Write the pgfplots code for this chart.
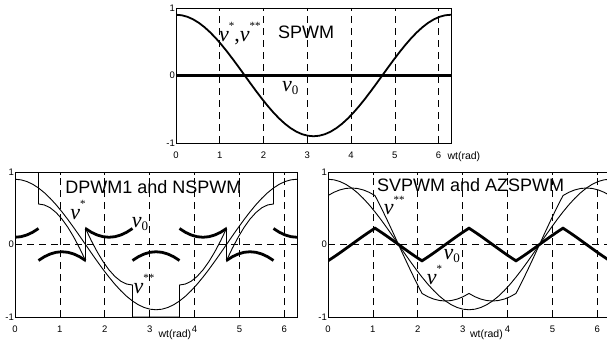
\documentclass[border=0pt]{standalone}
\usepackage{fontspec}
\setmainfont{Liberation Sans}
\newfontfamily\tm{Liberation Serif}
\usepackage{pgfplots}
\usepackage{pgfplotstable}
\pgfplotsset{compat=1.18}

\pgfplotstableread{
x vs vss v0
0 0.9 0.675 -0.225
0.1309 0.8923 0.7201 -0.1722
0.2618 0.8693 0.7528 -0.1165
0.3927 0.8315 0.7728 -0.0587
0.5236 0.7794 0.7794 0
0.6545 0.7140 0.7727 0.0587
0.7854 0.6364 0.7529 0.1165
0.9163 0.5479 0.7201 0.1722
1.0472 0.45 0.675 0.225
1.1781 0.3444 0.5166 0.1722
1.3090 0.2329 0.3494 0.1165
1.4399 0.1175 0.1762 0.0587
1.5708 0 0 0
1.7017 -0.1175 -0.1762 -0.0587
1.8326 -0.2329 -0.3494 -0.1165
1.9635 -0.3444 -0.5166 -0.1722
2.0944 -0.45 -0.675 -0.225
2.2253 -0.5479 -0.7201 -0.1722
2.3562 -0.6364 -0.7529 -0.1165
2.4871 -0.7140 -0.7727 -0.0587
2.6180 -0.7794 -0.7794 0
2.7489 -0.8315 -0.7728 0.0587
2.8798 -0.8693 -0.7528 0.1165
3.0107 -0.8923 -0.7201 0.1722
3.1416 -0.9 -0.675 0.225
3.2725 -0.8923 -0.7201 0.1722
3.4034 -0.8693 -0.7528 0.1165
3.5343 -0.8315 -0.7728 0.0587
3.6652 -0.7794 -0.7794 0
3.7961 -0.7140 -0.7727 -0.0587
3.9270 -0.6364 -0.7529 -0.1165
4.0579 -0.5479 -0.7201 -0.1722
4.1888 -0.45 -0.675 -0.225
4.3197 -0.3444 -0.5166 -0.1722
4.4506 -0.2329 -0.3494 -0.1165
4.5815 -0.1175 -0.1762 -0.0587
4.7124 0 0 0
4.8433 0.1175 0.1762 0.0587
4.9742 0.2329 0.3494 0.1165
5.1051 0.3444 0.5166 0.1722
5.2360 0.45 0.675 0.225
5.3669 0.5479 0.7201 0.1722
5.4978 0.6364 0.7529 0.1165
5.6287 0.7140 0.7727 0.0587
5.7596 0.7794 0.7794 0
5.8905 0.8315 0.7728 -0.0587
6.0214 0.8693 0.7528 -0.1165
6.1523 0.8923 0.7201 -0.1722
6.2832 0.9 0.675 -0.225
}\svtable

\newcommand{\vv}{{\tm\fontsize{22}{22}\selectfont\itshape v}}
\newcommand{\sups}[2][12pt]{\raisebox{#1}{\tm\fontsize{11}{11}\selectfont #2}}
\newcommand{\subz}{\raisebox{-3pt}{\tm\fontsize{13}{13}\selectfont 0}}

\tikzset{
  lbl/.style={anchor=base west, inner sep=0pt},
  ttl/.style={anchor=base west, inner sep=0pt, font=\fontsize{18}{18}\selectfont},
}
\pgfplotsset{
  myax/.style={
    scale only axis, anchor=south west,
    xmin=0, xmax=6.2832, ymin=-1, ymax=1,
    xtick={0,1,2,3,4,5,6}, ytick={-1,0,1},
    grid=major,
    grid style={dash pattern=on 7pt off 5pt, line width=0.6pt, black},
    axis line style={line width=0.9pt, black},
    tick style={black, line width=0.6pt},
    major tick length=3pt,
    tick label style={font=\fontsize{9.5}{9.5}\selectfont},
    /pgf/number format/assume math mode=true,
    yticklabel style={inner sep=1pt},
    xticklabel style={yshift=-5pt},
    xlabel style={font=\fontsize{10.5}{10.5}\selectfont},
  },
}

\begin{document}
\begin{tikzpicture}[x=1pt,y=1pt]
\useasboundingbox (0,0) rectangle (607,343);

% ---------- top: SPWM ----------
\begin{axis}[myax, at={(176pt,200pt)}, width=275pt, height=135pt,
  xlabel={wt(rad)},
  xlabel style={at={(axis description cs:1,0)}, anchor=north west, xshift=-7pt, yshift=-5pt}]
\addplot[line width=2.8pt] coordinates {(0,0) (6.2832,0)};
\addplot[line width=1.8pt] table[x=x,y=vs]{\svtable};
\node[lbl] at (axis cs:0.98,0.51) {\vv\sups{*}{\tm\fontsize{22}{22}\selectfont ,}\vv\sups{**}};
\node[ttl] at (axis cs:2.33,0.55) {SPWM};
\node[lbl] at (axis cs:2.42,-0.235) {\vv\subz};
\end{axis}

% ---------- bottom left: DPWM1 and NSPWM ----------
\begin{axis}[myax, at={(15pt,26pt)}, width=282pt, height=145pt,
  unbounded coords=jump,
  xlabel={wt(rad)},
  xlabel style={at={(axis description cs:0.567,0)}, anchor=north, yshift=-9.5pt}]
\addplot[line width=2.8pt] coordinates {
(0,0.1)(0.1309,0.1077)(0.2618,0.1307)(0.3927,0.1685)(0.5236,0.2206)
(0.5236,nan)
(0.5236,-0.2206)(0.6545,-0.1685)(0.7854,-0.1307)(0.9163,-0.1077)(1.0472,-0.1)(1.1781,-0.1077)(1.3090,-0.1307)(1.4399,-0.1685)(1.5708,-0.2206)
(1.5708,nan)
(1.5708,0.2206)(1.7017,0.1685)(1.8326,0.1307)(1.9635,0.1077)(2.0944,0.1)(2.2253,0.1077)(2.3562,0.1307)(2.4871,0.1685)(2.6180,0.2206)
(2.6180,nan)
(2.6180,-0.2206)(2.7489,-0.1685)(2.8798,-0.1307)(3.0107,-0.1077)(3.1416,-0.1)(3.2725,-0.1077)(3.4034,-0.1307)(3.5343,-0.1685)(3.6652,-0.2206)
(3.6652,nan)
(3.6652,0.2206)(3.7961,0.1685)(3.9270,0.1307)(4.0579,0.1077)(4.1888,0.1)(4.3197,0.1077)(4.4506,0.1307)(4.5815,0.1685)(4.7124,0.2206)
(4.7124,nan)
(4.7124,-0.2206)(4.8433,-0.1685)(4.9742,-0.1307)(5.1051,-0.1077)(5.2360,-0.1)(5.3669,-0.1077)(5.4978,-0.1307)(5.6287,-0.1685)(5.7596,-0.2206)
(5.7596,nan)
(5.7596,0.2206)(5.8905,0.1685)(6.0214,0.1307)(6.1523,0.1077)(6.2832,0.1)
};
\addplot[line width=0.9pt] table[x=x,y=vs]{\svtable};
\addplot[line width=0.9pt] coordinates {
(0,1)(0.5236,1)(0.5236,0.5588)(0.6545,0.5455)(0.7854,0.5057)(0.9163,0.4402)(1.0472,0.35)(1.1781,0.2367)(1.3090,0.1022)(1.4399,-0.0511)(1.5708,-0.2206)
(1.5708,0.2206)(1.7017,0.0511)(1.8326,-0.1022)(1.9635,-0.2367)(2.0944,-0.35)(2.2253,-0.4402)(2.3562,-0.5057)(2.4871,-0.5455)(2.6180,-0.5588)
(2.6180,-1)(3.6652,-1)
(3.6652,-0.5588)(3.7961,-0.5455)(3.9270,-0.5057)(4.0579,-0.4402)(4.1888,-0.35)(4.3197,-0.2367)(4.4506,-0.1022)(4.5815,0.0511)(4.7124,0.2206)
(4.7124,-0.2206)(4.8433,-0.0511)(4.9742,0.1022)(5.1051,0.2367)(5.2360,0.35)(5.3669,0.4402)(5.4978,0.5057)(5.6287,0.5455)(5.7596,0.5588)
(5.7596,1)(6.2832,1)
};
\node[ttl] at (axis cs:1.12,0.71) {DPWM1 and NSPWM};
\node[lbl] at (axis cs:1.23,0.345) {\vv\sups{*}};
\node[lbl] at (axis cs:2.6,0.23) {\vv\subz};
\node[lbl] at (axis cs:2.64,-0.67) {\vv\sups{**}};
\end{axis}

% ---------- bottom right: SVPWM and AZSPWM ----------
\begin{axis}[myax, at={(328pt,26pt)}, width=282pt, height=145pt,
  xlabel={wt(rad)},
  xlabel style={at={(axis description cs:0.562,0)}, anchor=north, yshift=-9.5pt}]
\addplot[line width=2.8pt] table[x=x,y=v0]{\svtable};
\addplot[line width=0.9pt] table[x=x,y=vs]{\svtable};
\addplot[line width=0.9pt] table[x=x,y=vss]{\svtable};
\node[ttl] at (axis cs:1.09,0.735) {SVPWM and AZSPWM};
\node[lbl] at (axis cs:1.24,0.42) {\vv\sups[10.5pt]{**}};
\node[lbl] at (axis cs:2.57,-0.207) {\vv\subz};
\node[lbl] at (axis cs:2.2,-0.55) {\vv\sups{*}};
\end{axis}
\end{tikzpicture}
\end{document}
